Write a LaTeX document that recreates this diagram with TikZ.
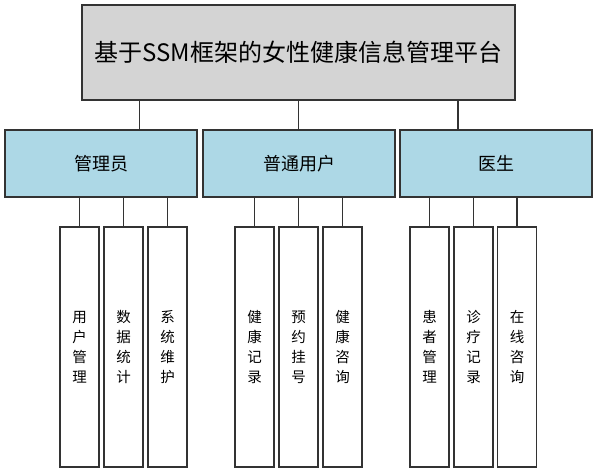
\documentclass[tikz,border=0pt]{standalone}
\usepackage{fontspec}
\setmainfont{Noto Sans CJK SC}
\usetikzlibrary{positioning,calc}

\begin{document}
\begin{tikzpicture}[x=1pt, y=-1pt]
\tikzstyle{root} = [draw=black!80, line width=1.5pt, rectangle, fill=black!17, minimum width=433pt, minimum height=95pt, inner sep=0pt, text centered, font=\fontsize{24}{28}\selectfont]
\tikzstyle{role} = [draw=black!80, line width=1.5pt, rectangle, fill=cyan!15!blue!10!white, minimum width=192pt, minimum height=67pt, inner sep=0pt, text centered, font=\fontsize{18}{22}\selectfont]
\tikzstyle{func} = [draw=black!80, line width=1.5pt, rectangle, fill=white, minimum width=39pt, minimum height=240pt, inner sep=0pt, align=center, font=\fontsize{14.5}{20}\selectfont]
\tikzstyle{link} = [draw=black!80, line width=1.5pt]

\useasboundingbox (0,0) rectangle (597,473);

\node[root] (top) at (298.5,52.5) {基于SSM框架的女性健康信息管理平台};

\node[role, fill={rgb,255:red,173;green,216;blue,230}] (admin) at (101,163.5) {管理员};
\node[role, fill={rgb,255:red,173;green,216;blue,230}] (user) at (299,163.5) {普通用户};
\node[role, fill={rgb,255:red,173;green,216;blue,230}] (doctor) at (496,163.5) {医生};

\node[func] (a1) at (79.5,347) {用\\户\\管\\理};
\node[func] (a2) at (123.5,347) {数\\据\\统\\计};
\node[func] (a3) at (167.5,347) {系\\统\\维\\护};

\node[func] (u1) at (254.5,347) {健\\康\\记\\录};
\node[func] (u2) at (298.5,347) {预\\约\\挂\\号};
\node[func] (u3) at (342.5,347) {健\\康\\咨\\询};

\node[func] (d1) at (429.5,347) {患\\者\\管\\理};
\node[func] (d2) at (473.5,347) {诊\\疗\\记\\录};
\node[func] (d3) at (517,347) {在\\线\\咨\\询};

\draw[link] ([xshift=58pt]top.south west) -- ([xshift=58pt]top.south west |- admin.north);
\draw[link] (top.south) -- (top.south |- user.north);
\draw[link] ([xshift=-58pt]top.south east) -- ([xshift=-58pt]top.south east |- doctor.north);

\draw[link] (a1.north |- admin.south) -- (a1.north);
\draw[link] (a2.north |- admin.south) -- (a2.north);
\draw[link] (a3.north |- admin.south) -- (a3.north);
\draw[link] (u1.north |- user.south) -- (u1.north);
\draw[link] (u2.north |- user.south) -- (u2.north);
\draw[link] (u3.north |- user.south) -- (u3.north);
\draw[link] (d1.north |- doctor.south) -- (d1.north);
\draw[link] (d2.north |- doctor.south) -- (d2.north);
\draw[link] (d3.north |- doctor.south) -- (d3.north);
\end{tikzpicture}
\end{document}
